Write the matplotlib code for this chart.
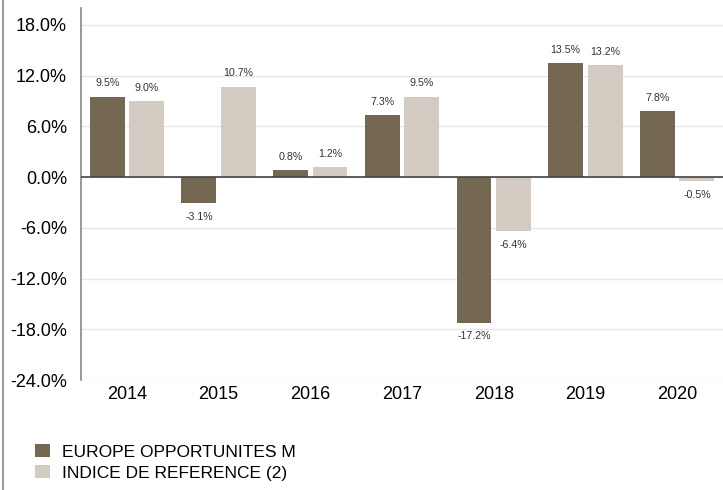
import numpy as np
from matplotlib import pyplot as plt
from matplotlib.lines import Line2D

years = ["2014", "2015", "2016", "2017", "2018", "2019", "2020"]
fund = [9.5, -3.1, 0.8, 7.3, -17.2, 13.5, 7.8]
index = [9.0, 10.7, 1.2, 9.5, -6.4, 13.2, -0.5]
names = ["EUROPE OPPORTUNITES M", "INDICE DE REFERENCE (2)"]
yticks = [-24, -18, -12, -6, 0, 6, 12, 18]

dark = "#756853"
light = "#d3cbc2"

plt.rcParams['font.family'] = ['Liberation Sans', 'DejaVu Sans']

fig = plt.figure(figsize=(7.23, 4.9), dpi=100)
ax = fig.add_axes([81 / 723, 1 - 380 / 490, 642 / 723, 372 / 490])

x = np.arange(len(years))
w = 0.38
off = 0.215
b1 = ax.bar(x - off, fund, w, color=dark, zorder=3, label=names[0])
b2 = ax.bar(x + off, index, w, color=light, zorder=3, label=names[1])

for bars, vals in [(b1, fund), (b2, index)]:
    for bar, v in zip(bars, vals):
        cx = bar.get_x() + bar.get_width() / 2
        if v >= 0:
            ax.annotate(f"{v:.1f}%", (cx, v), xytext=(0, 6), textcoords="offset points",
                        ha="center", va="bottom", fontsize=7.7, color="#333333")
        else:
            ax.annotate(f"{v:.1f}%", (cx, v), xytext=(0, -6), textcoords="offset points",
                        ha="center", va="top", fontsize=7.7, color="#333333")

ax.set_xlim(-0.5, len(years) - 0.5)
ax.set_ylim(-24, 20)
ax.set_yticks(yticks)
ax.set_yticklabels([f"{t:.1f}%" for t in yticks], fontsize=13)
ax.set_xticks(x)
ax.set_xticklabels(years, fontsize=13)
ax.tick_params(axis="y", length=0, pad=10)
ax.tick_params(axis="x", length=0, pad=4)
ax.grid(axis="y", color="#e6e6e6", linewidth=1, zorder=0)
ax.axhline(0, color="#444444", linewidth=1.2, zorder=4)
for s in ["top", "right", "bottom"]:
    ax.spines[s].set_visible(False)
ax.spines["left"].set_color("#888888")
ax.spines["left"].set_linewidth(1.2)

fig.legend(handles=[b1, b2], labels=names, loc="upper left",
           bbox_to_anchor=(35 / 723, 1 - 444 / 490), borderpad=0, borderaxespad=0,
           frameon=False, fontsize=12.5, handlelength=0.86, handleheight=0.8,
           handletextpad=0.7, labelspacing=0.3)

fig.add_artist(Line2D([3 / 723, 3 / 723], [0, 1], color="#888888", linewidth=1.2))

fig.savefig("out.png", dpi=100)
